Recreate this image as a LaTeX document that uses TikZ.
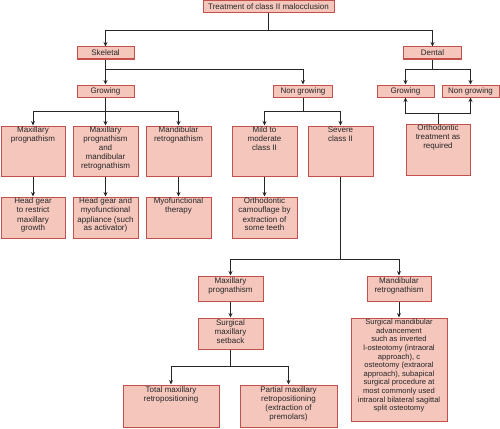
\documentclass[tikz,border=0pt]{standalone}
\usepackage{fontspec}
\setmainfont{Liberation Sans}
\usetikzlibrary{arrows.meta}

\definecolor{boxfill}{HTML}{F4C6BC}
\definecolor{boxline}{HTML}{C3504A}
\definecolor{ink}{HTML}{262626}

% box with text at the top
\newcommand\topbox[6]{%
  \node[box] (#1) at (#2,#3)
    {\parbox[c][#5pt][t]{#4pt}{\centering\vspace*{1.2pt}#6\par}};}
% box with text centred vertically
\newcommand\midbox[6]{%
  \node[box] (#1) at (#2,#3)
    {\parbox[c][#5pt][c]{#4pt}{\centering #6\par}};}

\begin{document}
\begin{tikzpicture}[x=1pt,y=-1pt,
  box/.style={draw=boxline, fill=boxfill, line width=1pt, inner sep=0pt,
    text=ink, font=\fontsize{8}{9}\selectfont},
  link/.style={draw=ink, line width=0.85pt},
  arr/.style={link, -{Stealth[length=4.5pt,width=4pt]}}]
\useasboundingbox (0,0) rectangle (500,428);

% ---- boxes ----
\midbox{top}{268.5}{7}{131}{12}{Treatment of class II malocclusion}
\midbox{skel}{105.5}{53}{57}{12}{Skeletal}
\midbox{dent}{432.5}{53}{58}{12}{Dental}
\midbox{grow}{105.5}{91}{57}{12}{Growing}
\midbox{nongrow}{303}{91}{59}{12}{Non growing}
\midbox{dgrow}{405.5}{91}{57}{12}{Growing}
\midbox{dnongrow}{470.5}{91}{57}{12}{Non growing}
\topbox{ortho}{438}{149.5}{64}{51}{Orthodontic\\treatment as\\required}

\topbox{mp}{33}{151}{64}{50}{Maxillary\\prognathism}
\topbox{mpmr}{105.5}{151}{65}{50}{Maxillary\\prognathism\\and\\mandibular\\retrognathism}
\topbox{mr}{178.5}{151}{65}{50}{Mandibular\\retrognathism}
\topbox{mild}{264.5}{151}{65}{50}{Mild to\\moderate\\class II}
\topbox{severe}{340.5}{151}{65}{50}{Severe\\class II}

\topbox{hg}{33}{217.5}{64}{41}{Head gear\\to restrict\\maxillary\\growth}
\topbox{hgm}{105.5}{217.5}{65}{41}{Head gear and\\myofunctional\\appliance (such\\as activator)}
\topbox{myo}{178.5}{217.5}{65}{41}{Myofunctional\\therapy}
\topbox{camo}{264.5}{217.5}{65}{41}{Orthodontic\\camouflage by\\extraction of\\some teeth}

\topbox{maxp}{230.5}{288.5}{65}{25}{Maxillary\\prognathism}
\topbox{mandr}{399}{288.5}{64}{25}{Mandibular\\retrognathism}
\topbox{setback}{230.5}{333.5}{65}{31}{Surgical\\maxillary\\setback}
\topbox{total}{171}{406}{96}{42}{Total maxillary\\retropositioning}
\topbox{partial}{288.5}{406}{97}{42}{Partial maxillary\\retropositioning\\(extraction of\\premolars)}
\node[box] (sma) at (399,369.5)
  {\parbox[c][103pt][t]{96pt}{\centering\fontsize{7.6}{8.6}\selectfont\vspace*{1.2pt}%
   Surgical mandibular\\advancement\\such as inverted\\l-osteotomy (intraoral\\approach), c\\osteotomy (extraoral\\approach), subapical\\surgical procedure at\\most commonly used\\intraoral bilateral sagittal\\split osteotomy\par}};

% ---- junction points ----
\coordinate (jtop) at (top.south |- 0,30);
\coordinate (jskel) at (skel.south |- 0,69);
\coordinate (jdent) at (dent.south |- 0,69);
\coordinate (jortho) at (ortho.north |- 0,113);
\coordinate (jgrow) at (grow.south |- 0,111);
\coordinate (jnon) at (nongrow.south |- 0,111);
\coordinate (jsev) at (severe.south |- 0,259);
\coordinate (jset) at (setback.south |- 0,366);

% ---- connectors ----
\draw[link] (top.south) -- (jtop);
\draw[arr] (jtop) -| (skel.north);
\draw[arr] (jtop) -| (dent.north);

\draw[arr] (skel.south) -- (grow.north);
\draw[arr] (jskel) -| (nongrow.north);

\draw[link] (dent.south) -- (jdent);
\draw[arr] (jdent) -| (dgrow.north);
\draw[arr] (jdent) -| (dnongrow.north);

\draw[link] (ortho.north) -- (jortho);
\draw[arr] (jortho) -| (dgrow.south);
\draw[arr] (jortho) -| (dnongrow.south);

\draw[arr] (grow.south) -- (mpmr.north);
\draw[arr] (jgrow) -| (mp.north);
\draw[arr] (jgrow) -| (mr.north);

\draw[link] (nongrow.south) -- (jnon);
\draw[arr] (jnon) -| (mild.north);
\draw[arr] (jnon) -| (severe.north);

\draw[arr] (mp.south) -- (hg.north);
\draw[arr] (mpmr.south) -- (hgm.north);
\draw[arr] (mr.south) -- (myo.north);
\draw[arr] (mild.south) -- (camo.north);

\draw[link] (severe.south) -- (jsev);
\draw[arr] (jsev) -| (maxp.north);
\draw[arr] (jsev) -| (mandr.north);

\draw[arr] (maxp.south) -- (setback.north);
\draw[arr] (mandr.south) -- (sma.north);

\draw[link] (setback.south) -- (jset);
\draw[arr] (jset) -| (total.north);
\draw[arr] (jset) -| (partial.north);
\end{tikzpicture}
\end{document}
